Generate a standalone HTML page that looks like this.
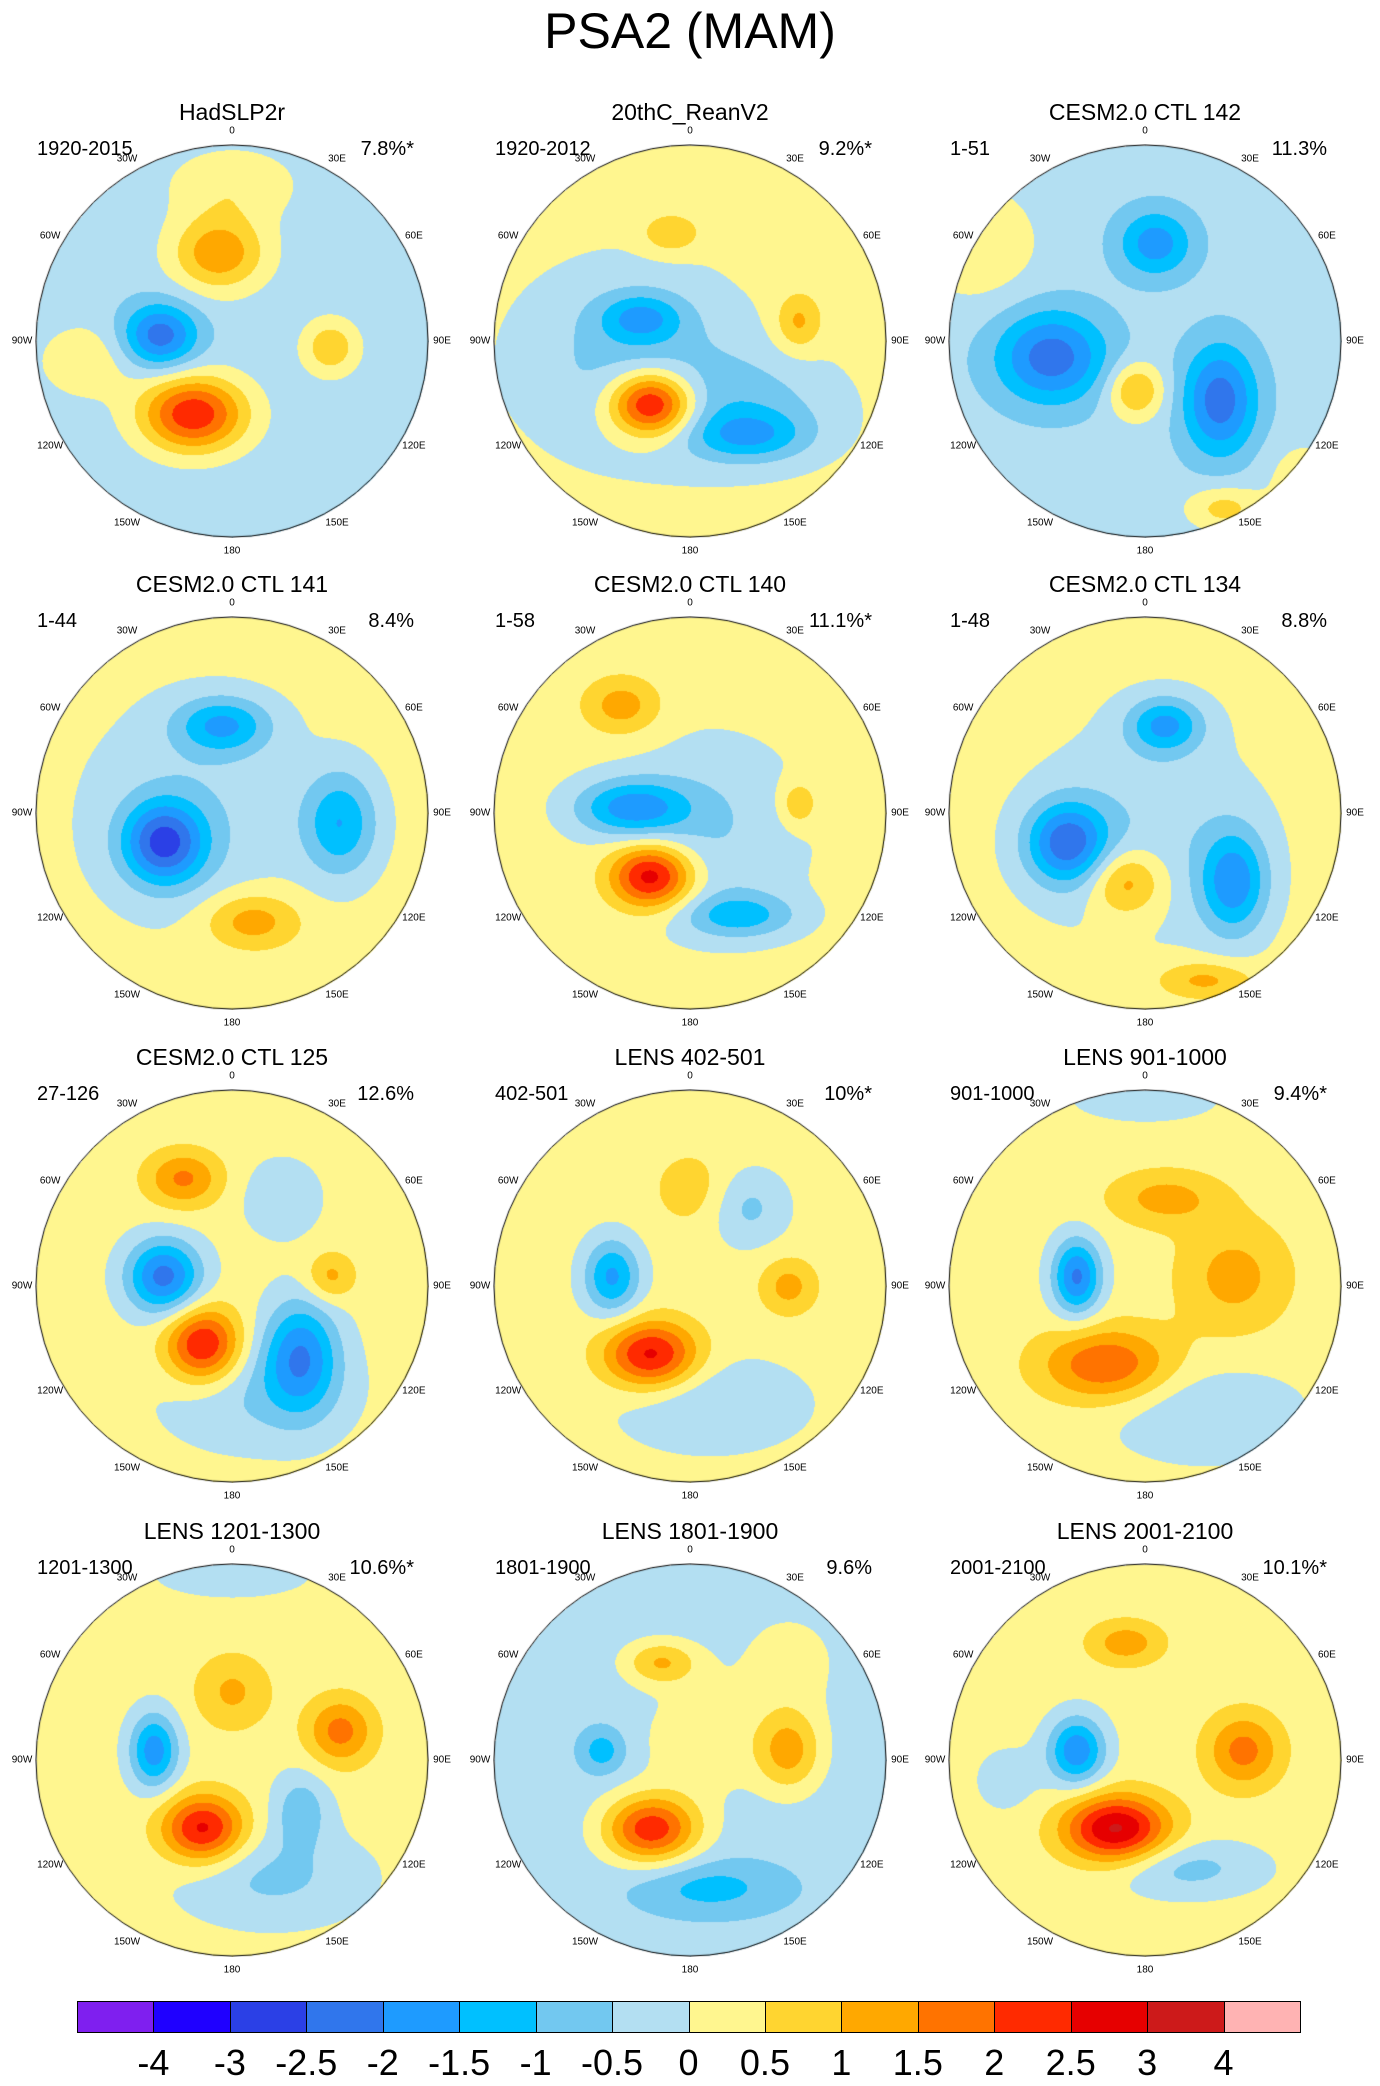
<!DOCTYPE html>
<html><head><meta charset="utf-8">
<style>
body{margin:0;background:#fff;width:1380px;height:2086px;position:relative;overflow:hidden;font-family:"Liberation Sans",sans-serif;}
.t{position:absolute;white-space:nowrap;color:#000;}
.main{left:0;width:1380px;text-align:center;top:2px;font-size:50px;}
.pt{font-size:23px;text-align:center;width:400px;}
.sub{font-size:20px;}
.lon{font-size:10px;transform:translate(-50%,-50%);}
canvas{position:absolute;}
.cb{position:absolute;top:2001px;height:32px;border:1px solid #000;box-sizing:border-box;}
.cbl{font-size:36px;top:2042px;transform:translateX(-50%);}
</style></head><body>
<div class="t main">PSA2 (MAM)</div>
<div id="root"></div>
<script>
const levels=[-4,-3,-2.5,-2,-1.5,-1,-0.5,0,0.5,1,1.5,2,2.5,3,4];
const colors=["#7f1fef","#1f00ff","#2b40e6","#3076ec","#1e9bff","#00c0ff","#72c8f0","#b3dff2","#fff68f","#ffd530","#ffa800","#ff7300","#ff2a00","#e60000","#cd1a1a","#ffb3b3"];
const titles=["HadSLP2r","20thC_ReanV2","CESM2.0 CTL 142","CESM2.0 CTL 141","CESM2.0 CTL 140","CESM2.0 CTL 134","CESM2.0 CTL 125","LENS 402-501","LENS 901-1000","LENS 1201-1300","LENS 1801-1900","LENS 2001-2100"];
const periods=["1920-2015","1920-2012","1-51","1-44","1-58","1-48","27-126","402-501","901-1000","1201-1300","1801-1900","2001-2100"];
const pcts=["7.8%*","9.2%*","11.3%","8.4%","11.1%*","8.8%","12.6%","10%*","9.4%*","10.6%*","9.6%","10.1%*"];
const bases=[-0.3,0.2,-0.3,0.2,0.2,0.2,0.2,0.2,0.2,0.2,-0.3,0.2];
// anomalies: [x, y, amplitude, sx, sy] (normalized to circle radius)
const anoms=[
[[-0.07,-0.45,1.7,0.25,0.2],[-0.37,-0.03,-2.0,0.2,0.17],[-0.2,0.37,2.7,0.28,0.2],[0.5,0.03,1.2,0.15,0.15],[0,-0.8,0.7,0.35,0.2],[-0.75,0.1,0.7,0.25,0.2]],
[[-0.3,0.1,-0.9,0.6,0.5],[0.3,0.35,-0.8,0.5,0.3],[-0.25,-0.12,-1.3,0.22,0.13],[-0.2,0.32,3.1,0.22,0.17],[0.3,0.48,-1.2,0.3,0.13],[0.55,-0.1,1.0,0.12,0.15],[-0.1,-0.55,0.9,0.15,0.1]],
[[0.05,-0.5,-1.5,0.2,0.18],[-0.48,0.08,-2.0,0.3,0.25],[-0.05,0.25,1.4,0.15,0.15],[0.38,0.3,-2.0,0.2,0.3],[0.4,0.85,1.0,0.2,0.12],[-0.85,-0.5,0.8,0.3,0.3],[0.8,0.7,0.6,0.2,0.2]],
[[-0.2,0,-0.6,0.6,0.6],[-0.05,-0.45,-1.6,0.25,0.15],[-0.35,0.15,-2.5,0.22,0.22],[0.55,0.05,-1.6,0.2,0.28],[0.1,0.55,1.2,0.25,0.15]],
[[0.1,0.1,-0.7,0.5,0.5],[-0.35,-0.55,1.1,0.2,0.15],[-0.3,-0.03,-1.8,0.3,0.15],[-0.2,0.32,2.8,0.22,0.17],[0.25,0.52,-1.3,0.3,0.12],[0.55,-0.05,0.9,0.1,0.12]],
[[0,0.1,-0.6,0.6,0.6],[0.1,-0.45,-1.7,0.2,0.15],[-0.4,0.15,-2.3,0.22,0.22],[-0.1,0.35,1.4,0.2,0.18],[0.45,0.35,-1.9,0.18,0.28],[0.3,0.85,1.0,0.25,0.1]],
[[0.1,0.55,-0.7,0.5,0.3],[-0.25,-0.55,1.4,0.2,0.15],[-0.35,-0.05,-2.4,0.2,0.2],[-0.15,0.3,2.5,0.2,0.2],[0.35,0.35,-2.0,0.2,0.3],[0.5,-0.05,1.0,0.13,0.13],[0.25,-0.45,-0.7,0.2,0.2]],
[[0.1,0.6,-0.7,0.5,0.25],[-0.4,-0.05,-1.8,0.15,0.2],[-0.2,0.35,2.5,0.25,0.18],[0.5,0,1.0,0.15,0.15],[0.3,-0.4,-0.8,0.2,0.2],[0,-0.5,0.6,0.2,0.2]],
[[0.3,0.65,-0.7,0.5,0.25],[-0.35,-0.05,-2.3,0.13,0.2],[-0.2,0.4,1.8,0.35,0.2],[0.1,-0.45,1.0,0.3,0.15],[0.45,-0.05,1.0,0.3,0.3],[0,-0.95,-0.5,0.4,0.12]],
[[0.2,0.6,-0.8,0.5,0.25],[-0.4,-0.05,-2.0,0.13,0.2],[-0.15,0.35,2.5,0.22,0.18],[0.55,-0.15,1.5,0.18,0.18],[0,-0.35,0.9,0.2,0.2],[0.35,0.25,-1.0,0.15,0.2],[0,-0.95,-0.4,0.5,0.15]],
[[-0.15,-0.5,1.3,0.2,0.12],[-0.2,0.35,2.6,0.25,0.18],[0.5,-0.05,1.5,0.18,0.22],[0.05,-0.1,0.7,0.3,0.3],[-0.45,-0.05,-1.0,0.12,0.12],[0.1,0.65,-0.9,0.4,0.15],[0.5,-0.5,0.5,0.3,0.3]],
[[-0.1,-0.6,1.1,0.2,0.12],[-0.35,-0.05,-2.1,0.15,0.18],[-0.15,0.35,2.9,0.28,0.18],[0.5,-0.05,1.5,0.2,0.2],[0.2,0.55,-0.9,0.4,0.15],[-0.7,0.1,-0.4,0.2,0.2]]
];
const lonLabels=["0","30E","60E","90E","120E","150E","180","150W","120W","90W","60W","30W"];
const colX=[232,690,1145], rowY=[341,813,1286,1760], R=196;
const root=document.getElementById('root');
function rgb(h){return [parseInt(h.slice(1,3),16),parseInt(h.slice(3,5),16),parseInt(h.slice(5,7),16)];}
const crgb=colors.map(rgb);
function idx(v){let i=0;while(i<levels.length&&v>=levels[i])i++;return i;}
for(let p=0;p<12;p++){
  const cx=colX[p%3], cy=rowY[Math.floor(p/3)];
  const t=document.createElement('div');t.className='t pt';t.style.left=(cx-200)+'px';t.style.top=(cy-242)+'px';t.textContent=titles[p];
  
  
  root.appendChild(t);
  const s=document.createElement('div');s.className='t sub';s.style.left=(cx-195)+'px';s.style.top=(cy-203)+'px';s.textContent=periods[p];
  
  
  root.appendChild(s);
  const q=document.createElement('div');q.className='t sub';q.style.right=(1380-cx-182)+'px';q.style.top=(cy-203)+'px';q.textContent=pcts[p];
  
  
  root.appendChild(q);
  const c=document.createElement('canvas');c.width=2*R+2;c.height=2*R+2;c.style.left=(cx-R-1)+'px';c.style.top=(cy-R-1)+'px';
  
  
  root.appendChild(c);
  const g=c.getContext('2d');const im=g.createImageData(c.width,c.height);const d=im.data;const A=anoms[p];
  for(let y=0;y<c.height;y++)for(let x=0;x<c.width;x++){
    const nx=(x-R-1)/R, ny=(y-R-1)/R; if(nx*nx+ny*ny>1)continue;
    let v=bases[p];
    for(const a of A){const dx=(nx-a[0])/a[3],dy=(ny-a[1])/a[4];v+=a[2]*Math.exp(-(dx*dx+dy*dy)*1.1);}
    const col=crgb[idx(v)];const o=(y*c.width+x)*4;d[o]=col[0];d[o+1]=col[1];d[o+2]=col[2];d[o+3]=255;
  }
  g.putImageData(im,0,0);
  g.beginPath();g.arc(R+1,R+1,R,0,Math.PI*2);g.strokeStyle='#000';g.lineWidth=1;g.stroke();
  for(let k=0;k<12;k++){
    const ang=k*30*Math.PI/180, rr=R+14;
    const l=document.createElement('div');l.className='t lon';
    l.style.left=(cx+rr*Math.sin(ang))+'px';l.style.top=(cy-rr*Math.cos(ang))+'px';l.textContent=lonLabels[k];
    
    
    root.appendChild(l);
  }
}
const x0=77,x1=1300,w=(x1-x0)/colors.length;
for(let i=0;i<colors.length;i++){
  const b=document.createElement('div');b.className='cb';b.style.left=(x0+i*w)+'px';b.style.width=(w+1)+'px';b.style.background=colors[i];
  
  
  root.appendChild(b);
}
const cbLabels=["-4","-3","-2.5","-2","-1.5","-1","-0.5","0","0.5","1","1.5","2","2.5","3","4"];
for(let i=0;i<cbLabels.length;i++){
  const l=document.createElement('div');l.className='t cbl';l.style.left=(x0+(i+1)*w)+'px';l.textContent=cbLabels[i];
  
  
  root.appendChild(l);
}
</script>
</body></html>
